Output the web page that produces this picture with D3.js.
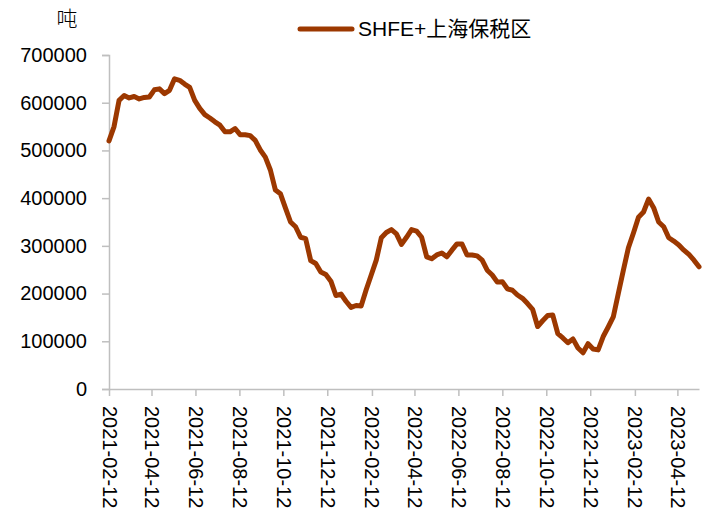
<!DOCTYPE html>
<html>
<head>
<meta charset="utf-8">
<script src="https://cdn.jsdelivr.net/npm/d3@7"></script>
<style>
  body { margin: 0; background: #fff; }
  svg { display: block; }
</style>
</head>
<body>
<div id="chart"></div>
<script>
/* -----------------------
data
------------------------- */

var start_date = '2021-02-12'; // weekly observations from here

var stock = [
	520000, 550000, 605000, 615000, 610000, 613000, 608000, 611000, 612000, 627000,
	629000, 619000, 626000, 650000, 647000, 639000, 632000, 605000, 588000, 575000,
	568000, 560000, 553000, 539000, 539000, 546000, 533000, 533000, 531000, 521000,
	501000, 486000, 459000, 417000, 409000, 379000, 350000, 340000, 318000, 315000,
	269000, 263000, 245000, 240000, 226000, 196000, 199000, 184000, 171000, 175000,
	174000, 208000, 239000, 270000, 317000, 328000, 334000, 325000, 303000, 318000,
	334000, 331000, 318000, 277000, 273000, 281000, 285000, 277000, 291000, 304000,
	304000, 281000, 281000, 279000, 270000, 249000, 239000, 224000, 225000, 210000,
	207000, 197000, 190000, 179000, 167000, 131000, 143000, 154000, 155000, 116000,
	107000, 97000, 105000, 86000, 76000, 95000, 84000, 82000, 110000, 130000,
	151000, 200000, 249000, 296000, 327000, 360000, 371000, 398000, 380000, 350000,
	340000, 317000, 310000, 302000, 291000, 282000, 270000, 256000
];

var x_ticks = ['2021-02-12', '2021-04-12', '2021-06-12', '2021-08-12', '2021-10-12',
	'2021-12-12', '2022-02-12', '2022-04-12', '2022-06-12', '2022-08-12',
	'2022-10-12', '2022-12-12', '2023-02-12', '2023-04-12'];

var y_ticks = [0, 100000, 200000, 300000, 400000, 500000, 600000, 700000];

var series_name = 'SHFE+上海保税区';
var unit = '吨';

/* -----------------------
main variables
------------------------- */

var width = 710,
	height = 518;

var plot_left = 109,
	plot_right = 699,
	plot_top = 55,
	plot_bottom = 389;

var c_line = '#9C3800',
	c_axis = '#BFBFBF',
	c_text = '#000';

var font = '"Liberation Sans", Arial, "Noto Sans CJK SC", sans-serif';

var parse = d3.timeParse('%Y-%m-%d');
var t0 = parse(start_date);

var data = stock.map(function (v, i) {
	return { date: d3.timeDay.offset(t0, 7 * i), value: v };
});

/* -----------------------
set plot
------------------------- */

var svg = d3.select('#chart')
	.append('svg')
	.attr('width', width)
	.attr('height', height)
	.style('font-family', font);

var x = d3.scaleTime()
	.domain([t0, data[data.length - 1].date])
	.range([plot_left, plot_right]);

var y = d3.scaleLinear()
	.domain([0, 700000])
	.range([plot_bottom, plot_top]);

/* -----------------------
axes
------------------------- */

var y_axis = svg.append('g')
	.attr('transform', 'translate(' + plot_left + ',0)')
	.call(d3.axisLeft(y).tickValues(y_ticks).tickSize(7).tickPadding(15).tickFormat(d3.format('d')));

y_axis.select('.domain').attr('stroke', c_axis).attr('stroke-width', 1.5);
y_axis.selectAll('.tick line').attr('stroke', c_axis).attr('stroke-width', 1.5);
y_axis.selectAll('.tick text')
	.attr('font-size', '20px')
	.attr('font-family', font)
	.attr('fill', c_text);

var x_axis = svg.append('g')
	.attr('transform', 'translate(0,' + plot_bottom + ')')
	.call(d3.axisBottom(x).tickValues(x_ticks.map(parse)).tickSize(7).tickSizeOuter(0)
		.tickFormat(d3.timeFormat('%Y-%m-%d')));

x_axis.select('.domain').attr('stroke', c_axis).attr('stroke-width', 1.5);
x_axis.selectAll('.tick line').attr('stroke', c_axis).attr('stroke-width', 1.5);
x_axis.selectAll('.tick text')
	.attr('font-size', '20px')
	.attr('font-family', font)
	.attr('fill', c_text)
	.attr('text-anchor', 'start')
	.attr('transform', 'rotate(90)')
	.attr('x', 17)
	.attr('y', 0)
	.attr('dy', '0.35em');

/* -----------------------
line
------------------------- */

var line = d3.line()
	.x(function (d) { return x(d.date); })
	.y(function (d) { return y(d.value); });

svg.append('path')
	.datum(data)
	.attr('d', line)
	.attr('fill', 'none')
	.attr('stroke', c_line)
	.attr('stroke-width', 5)
	.attr('stroke-linejoin', 'round')
	.attr('stroke-linecap', 'round');

/* -----------------------
labels + legend
------------------------- */

svg.append('text')
	.attr('x', 67)
	.attr('y', 26)
	.attr('text-anchor', 'middle')
	.attr('font-size', '21px')
	.attr('font-family', '"Noto Sans CJK SC", sans-serif')
	.attr('font-weight', 300)
	.attr('fill', c_text)
	.text(unit);

var legend = svg.append('g')
	.attr('transform', 'translate(300,29)');

legend.append('line')
	.attr('x1', 0)
	.attr('x2', 52)
	.attr('stroke', c_line)
	.attr('stroke-width', 5)
	.attr('stroke-linecap', 'round');

legend.append('text')
	.attr('x', 58)
	.attr('y', 0)
	.attr('dy', '0.35em')
	.attr('font-size', '21px')
	.attr('fill', c_text)
	.text(series_name);
</script>
</body>
</html>
